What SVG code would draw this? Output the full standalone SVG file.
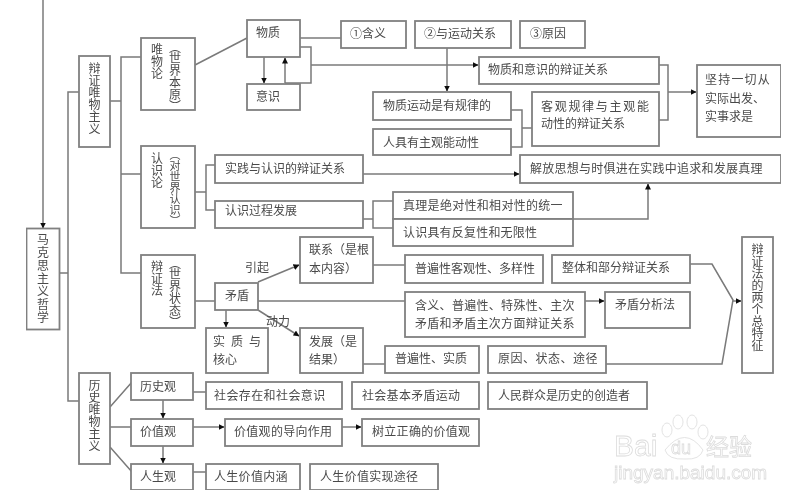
<svg xmlns="http://www.w3.org/2000/svg" width="800" height="500" viewBox="0 0 800 500">
<style>
text{font-family:"Noto Sans CJK SC","Liberation Sans",sans-serif;font-size:12px;fill:#4a4a4a}
.v{writing-mode:vertical-rl;letter-spacing:.2px}
.n rect{fill:#fff;stroke:#808080;stroke-width:1.8}
.c path{fill:none;stroke:#7a7a7a;stroke-width:1.5}
.c .a{marker-end:url(#m)}
.wm,.wm text{fill:#fff;stroke:#dcdcdc;stroke-width:.8}
</style>
<defs>
<marker id="m" markerUnits="userSpaceOnUse" markerWidth="6" markerHeight="6" refX="5.500" refY="3" orient="auto"><path d="M0 0L6 3L0 6Z" fill="#111"/></marker>
<filter id="s" x="0" y="0" width="1" height="1"><feGaussianBlur stdDeviation=".7"/></filter>
</defs>
<rect width="800" height="500" fill="#fff"/>
<g filter="url(#s)">
<g id="watermark" class="wm">
<ellipse cx="667" cy="430" rx="5" ry="7"/><ellipse cx="678" cy="422" rx="5" ry="7"/><ellipse cx="692" cy="422" rx="5" ry="7"/><ellipse cx="703" cy="432" rx="5" ry="7"/><path d="M665 450Q685 425 703 450Q700 460 685 459Q668 460 665 450Z"/>
<text x="614" y="456" style="font-family:'Liberation Sans',sans-serif;font-size:30px">Bai</text>
<text x="671" y="454" style="font-family:'Liberation Sans',sans-serif;font-size:18px">du</text>
<text x="706" y="455" style="font-size:23px">经验</text>
<text x="614" y="479" style="font-family:'Liberation Sans',sans-serif;font-size:19px">jingyan.baidu.com</text>
</g>
<g id="connectors" class="c">
<path class="a" d="M43 0V228"/>
<path d="M59 273H68M79 92H68V401H79"/>
<path d="M110 101H121M141 57H121V273H141M121 174H141"/>
<path d="M195 65L247 38"/>
<path class="a" d="M264 57V83"/>
<path class="a" d="M285 83V58"/>
<path d="M300 38H341"/>
<path d="M300 47H311V83H285"/>
<path class="a" d="M311 65H478"/>
<path class="a" d="M447 48V91"/>
<path d="M659 65H668V120H659"/>
<path class="a" d="M668 92H696"/>
<path d="M511 110H522V147H511M522 128H532"/>
<path d="M195 192H206M215 165H206V210H215"/>
<path class="a" d="M363 174H519"/>
<path d="M363 219H373M393 201H373V228H393"/>
<path class="a" d="M573 219H648V184"/>
<path d="M195 301H215"/>
<path class="a" d="M258 282L299 265"/>
<path class="a" d="M258 310L299 336"/>
<path class="a" d="M226 310V327"/>
<path d="M258 301H405"/>
<path d="M373 265H405"/>
<path d="M363 364H385"/>
<path class="a" d="M585 301H604"/>
<path d="M690 264H712L733 300L722 364H606"/>
<path class="a" d="M733 301H741"/>
<path d="M110 407L132 382M110 427H131M110 447L132 472"/>
<path class="a" d="M163 400V418"/>
<path class="a" d="M163 446V463"/>
<path d="M193 392H206M193 472H206"/>
<path class="a" d="M193 427H224"/>
<path class="a" d="M342 427H361"/>
</g>
<g id="n-root" class="n"><rect x="26.500" y="228.500" width="33" height="101"/><text class="v" x="43" y="233" style="letter-spacing:1px">马克思主义哲学</text></g>
<g id="n-dialectical-materialism" class="n"><rect x="79" y="56" width="31" height="91"/><text class="v" x="94.500" y="62">辩证唯物主义</text></g>
<g id="n-historical-materialism" class="n"><rect x="79" y="373" width="31" height="91"/><text class="v" x="94.500" y="379">历史唯物主义</text></g>
<g id="n-ontology" class="n"><rect x="141" y="38" width="54" height="72"/><text class="v" x="157" y="43">唯物论</text><text class="v" x="175" y="41" style="letter-spacing:-.2px">（世界本原）</text></g>
<g id="n-epistemology" class="n"><rect x="141" y="146" width="54" height="82"/><text class="v" x="157" y="152">认识论</text><text class="v" x="175" y="149" style="font-size:11px;letter-spacing:0">（对世界认识）</text></g>
<g id="n-dialectics" class="n"><rect x="141" y="255" width="54" height="73"/><text class="v" x="157" y="260">辩证法</text><text class="v" x="175" y="257" style="letter-spacing:-.2px">（世界状态）</text></g>
<g id="n-matter" class="n"><rect x="247" y="20" width="53" height="37"/><text x="256" y="37">物质</text></g>
<g id="n-consciousness" class="n"><rect x="247" y="84" width="53" height="26"/><text x="256" y="101">意识</text></g>
<g id="n-meaning" class="n"><rect x="341" y="21" width="65" height="27"/><text x="350" y="38">①含义</text></g>
<g id="n-motion" class="n"><rect x="415" y="21" width="96" height="27"/><text x="424" y="38">②与运动关系</text></g>
<g id="n-cause" class="n"><rect x="520" y="21" width="65" height="27"/><text x="530" y="38">③原因</text></g>
<g id="n-mc-relation" class="n"><rect x="479" y="57" width="180" height="27"/><text x="488" y="74">物质和意识的辩证关系</text></g>
<g id="n-law" class="n"><rect x="373" y="92" width="138" height="28"/><text x="383" y="110">物质运动是有规律的</text></g>
<g id="n-initiative" class="n"><rect x="373" y="129" width="138" height="26"/><text x="383" y="147">人具有主观能动性</text></g>
<g id="n-law-relation" class="n"><rect x="532" y="92" width="127" height="54"/><text x="541" y="111" style="letter-spacing:1.700px">客观规律与主观能</text><text x="541" y="128">动性的辩证关系</text></g>
<g id="n-practical" class="n"><rect x="697" y="65" width="84" height="72"/><text x="705" y="84" style="letter-spacing:1.200px">坚持一切从</text><text x="705" y="103">实际出发、</text><text x="705" y="121">实事求是</text></g>
<g id="n-practice" class="n"><rect x="215" y="155" width="148" height="28"/><text x="225" y="173">实践与认识的辩证关系</text></g>
<g id="n-process" class="n"><rect x="215" y="201" width="148" height="27"/><text x="225" y="215">认识过程发展</text></g>
<g id="n-liberate" class="n"><rect x="520" y="155" width="261" height="28"/><text x="530" y="173" style="letter-spacing:.25px">解放思想与时俱进在实践中追求和发展真理</text></g>
<g id="n-truth" class="n"><rect x="393" y="192" width="180" height="27"/><text x="403" y="210" style="letter-spacing:.3px">真理是绝对性和相对性的统一</text></g>
<g id="n-repeat" class="n"><rect x="393" y="219" width="180" height="27"/><text x="403" y="237" style="letter-spacing:.2px">认识具有反复性和无限性</text></g>
<g id="n-link" class="n"><rect x="300" y="237" width="73" height="46"/><text x="309" y="254">联系（是根</text><text x="309" y="273">本内容）</text></g>
<g id="n-contradiction" class="n"><rect x="215" y="283" width="43" height="27"/><text x="225" y="300">矛盾</text></g>
<g id="n-essence" class="n"><rect x="206" y="328" width="62" height="45"/><text x="213" y="346" style="letter-spacing:6px">实质与</text><text x="213" y="364">核心</text></g>
<g id="n-development" class="n"><rect x="300" y="328" width="63" height="45"/><text x="309" y="346">发展（是</text><text x="309" y="364">结果）</text></g>
<g id="n-universal" class="n"><rect x="405" y="255" width="138" height="28"/><text x="415" y="273">普遍性客观性、多样性</text></g>
<g id="n-whole-part" class="n"><rect x="552" y="255" width="138" height="28"/><text x="562" y="272">整体和部分辩证关系</text></g>
<g id="n-contra-meaning" class="n"><rect x="405" y="292" width="180" height="45"/><text x="415" y="310" style="letter-spacing:.3px">含义、普遍性、特殊性、主次</text><text x="415" y="328" style="letter-spacing:.3px">矛盾和矛盾主次方面辩证关系</text></g>
<g id="n-analysis" class="n"><rect x="605" y="292" width="85" height="36"/><text x="615" y="309">矛盾分析法</text></g>
<g id="n-dev-universal" class="n"><rect x="385" y="346" width="94" height="27"/><text x="395" y="363">普遍性、实质</text></g>
<g id="n-dev-cause" class="n"><rect x="488" y="346" width="118" height="27"/><text x="498" y="363" style="letter-spacing:.5px">原因、状态、途径</text></g>
<g id="n-features" class="n"><rect x="742" y="237" width="31" height="136"/><text class="v" x="757.500" y="243" style="letter-spacing:0">辩证法的两个总特征</text></g>
<g id="n-history" class="n"><rect x="131" y="373" width="62" height="27"/><text x="140" y="391">历史观</text></g>
<g id="n-value" class="n"><rect x="131" y="419" width="62" height="27"/><text x="140" y="436">价值观</text></g>
<g id="n-life" class="n"><rect x="131" y="464" width="62" height="26"/><text x="140" y="481">人生观</text></g>
<g id="n-social" class="n"><rect x="206" y="382" width="136" height="27"/><text x="214" y="400" style="letter-spacing:.4px">社会存在和社会意识</text></g>
<g id="n-basic" class="n"><rect x="352" y="382" width="127" height="27"/><text x="362" y="400" style="letter-spacing:.3px">社会基本矛盾运动</text></g>
<g id="n-people" class="n"><rect x="488" y="382" width="159" height="27"/><text x="498" y="400">人民群众是历史的创造者</text></g>
<g id="n-guide" class="n"><rect x="225" y="419" width="117" height="27"/><text x="234" y="436" style="letter-spacing:.3px">价值观的导向作用</text></g>
<g id="n-correct" class="n"><rect x="362" y="419" width="117" height="27"/><text x="372" y="436" style="letter-spacing:.3px">树立正确的价值观</text></g>
<g id="n-life-meaning" class="n"><rect x="206" y="464" width="94" height="26"/><text x="214" y="481" style="letter-spacing:.3px">人生价值内涵</text></g>
<g id="n-life-way" class="n"><rect x="310" y="464" width="128" height="26"/><text x="320" y="481" style="letter-spacing:.3px">人生价值实现途径</text></g>
<g id="edge-labels"><text x="245" y="272">引起</text><text x="266" y="326">动力</text></g>
</g>
</svg>
